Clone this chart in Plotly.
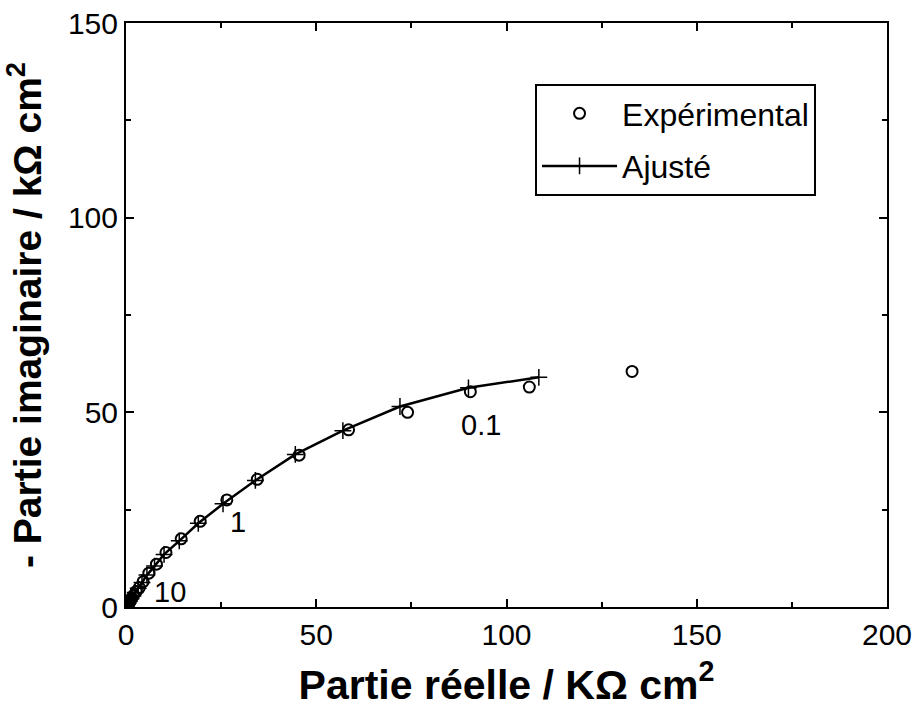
import plotly.graph_objects as go

# Experimental data (k-ohm cm^2)
exp_re = [133, 106, 90.5, 74, 58.5, 45.5, 34.5, 26.5, 19.5, 14.5, 10.5, 8, 6, 4.5, 3.5,
          2.7, 2.0, 1.5, 1.1, 0.8, 0.5, 0.3, 0.1]
exp_im = [60.5, 56.5, 55.3, 50, 45.5, 39, 32.8, 27.5, 22, 17.5, 14, 11, 8.7, 6.5, 5,
          4.0, 3.0, 2.3, 1.7, 1.2, 0.8, 0.4, 0.1]

# Fitted data
fit_re = [108.5, 90, 72, 57, 44.5, 34, 25.5, 19, 14, 10, 7.5, 5.5, 4.2, 3.2, 2.4,
          1.8, 1.3, 0.9, 0.6, 0.4, 0.2, 0.1]
fit_im = [59, 56.3, 51.5, 45.3, 39.2, 32.5, 26.5, 21.5, 17, 13.5, 10.5, 8.2, 6.3, 4.8, 3.7,
          2.8, 2.1, 1.5, 1.0, 0.7, 0.4, 0.2]

# Frequency labels
freq_labels = ["0.1", "1", "10"]
freq_x = [93.2, 29.5, 11.5]
freq_y = [46.7, 21.8, 3.8]

font_family = "Liberation Sans, Arial, sans-serif"

fig = go.Figure()
fig.add_trace(go.Scatter(
    x=exp_re, y=exp_im, mode="markers", name="Expérimental", legendgroup="exp",
    marker=dict(symbol="circle-open", size=11, color="black", line=dict(width=2, color="black")),
))
fig.add_trace(go.Scatter(
    x=fit_re, y=fit_im, mode="lines+markers", name="Ajusté", legendgroup="fit",
    line=dict(color="black", width=2.5),
    marker=dict(symbol="cross-thin-open", size=12, color="black", line=dict(width=1.5, color="black")),
))

for t, x, y in zip(freq_labels, freq_x, freq_y):
    fig.add_annotation(x=x, y=y, text=t, showarrow=False, xanchor="center", yanchor="middle",
                       font=dict(size=29, color="black", family=font_family))

axis_common = dict(
    showgrid=False, zeroline=False, showline=True, linecolor="black", linewidth=2,
    mirror="ticks", ticks="inside", ticklen=8, tickwidth=1.5, tickcolor="black",
    tickfont=dict(size=30, color="black", family=font_family),
    minor=dict(ticks="inside", ticklen=5, tickwidth=1.5, tickcolor="black", dtick=25),
    automargin=False,
)

fig.update_xaxes(range=[0, 200], dtick=50, **axis_common,
                 title=dict(text="<b>Partie réelle / KΩ cm<sup>2</sup></b>",
                            font=dict(size=41, color="black", family=font_family), standoff=20))
fig.update_yaxes(range=[0, 150], dtick=50, **axis_common,
                 title=dict(text="<b>- Partie imaginaire / kΩ cm<sup>2</sup></b>",
                            font=dict(size=39, color="black", family=font_family), standoff=15))

fig.update_layout(
    width=915, height=708,
    margin=dict(l=126, r=28, t=23, b=101),
    plot_bgcolor="white", paper_bgcolor="white",
    font=dict(family=font_family, color="black"),
    legend=dict(x=0.5375, y=0.8955, xanchor="left", yanchor="top",
                bordercolor="black", borderwidth=2, bgcolor="white",
                font=dict(size=32, color="black", family=font_family),
                itemwidth=75, tracegroupgap=8),
    showlegend=True,
)

fig.write_html("out.html", config={"displayModeBar": False},
               post_script="document.body.style.margin='0';document.body.style.overflow='hidden';")
